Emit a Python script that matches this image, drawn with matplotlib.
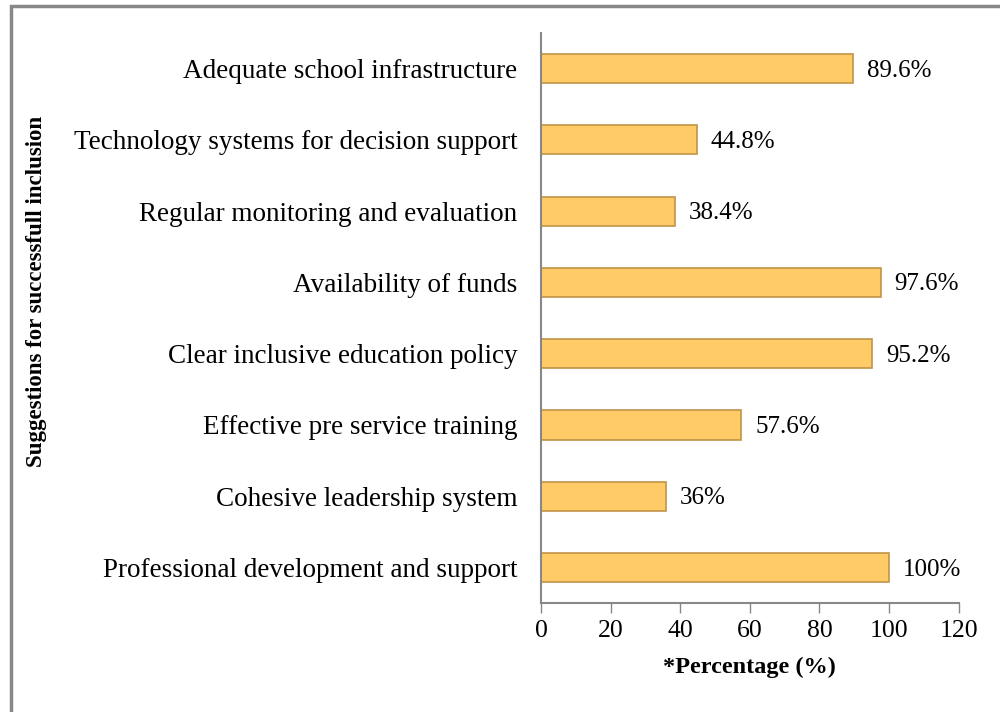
import matplotlib.pyplot as plt
from matplotlib.patches import Rectangle

# Suggestions, listed bottom to top as they appear on the y axis
suggestions = [
    "Professional development and support",
    "Cohesive leadership system",
    "Effective pre service training",
    "Clear inclusive education policy",
    "Availability of funds",
    "Regular monitoring and evaluation",
    "Technology systems for decision support",
    "Adequate school infrastructure",
]
percentages = [100, 36, 57.6, 95.2, 97.6, 38.4, 44.8, 89.6]
value_labels = ["100%", "36%", "57.6%", "95.2%", "97.6%", "38.4%", "44.8%", "89.6%"]
x_ticks = [0, 20, 40, 60, 80, 100, 120]

plt.rcParams['font.family'] = ['Liberation Serif', 'DejaVu Serif']

fig = plt.figure(figsize=(10, 7.12), dpi=100)
ax = fig.add_axes([0.541, 0.153, 0.4176, 0.8007])

pos = list(range(len(suggestions)))
ax.barh(pos, percentages, height=0.41, color='#FECB66', edgecolor='#C09447', linewidth=1.2)

for p, v, lab in zip(pos, percentages, value_labels):
    ax.annotate(lab, (v, p), xytext=(10, -1.5), textcoords='offset points',
                va='center', ha='left', fontsize=18)

ax.set_xlim(0, 120)
ax.set_ylim(-0.5, 7.5)
ax.set_xticks(x_ticks)
ax.set_yticks(pos)
ax.set_yticklabels(suggestions, fontsize=19.5)
ax.tick_params(axis='y', length=0, pad=17)
ax.tick_params(axis='x', length=7, width=1, color='#888888', pad=5, labelsize=18.5)

for s in ['top', 'right']:
    ax.spines[s].set_visible(False)
for s in ['left', 'bottom']:
    ax.spines[s].set_color('#888888')
    ax.spines[s].set_linewidth(1.5)

ax.set_xlabel("*Percentage (%)", fontsize=17.5, fontweight='bold', labelpad=11)
fig.text(0.037, 0.59, "Suggestions for successfull inclusion", rotation=90,
         ha='center', va='center', fontsize=16.5, fontweight='bold')

# outer frame, running off the right and bottom edges
fig.patches.append(Rectangle((0.011, -0.05), 1.1, 1.0416, transform=fig.transFigure,
                             fill=False, edgecolor='#888888', linewidth=2.5))

fig.savefig("out.png", dpi=100)
